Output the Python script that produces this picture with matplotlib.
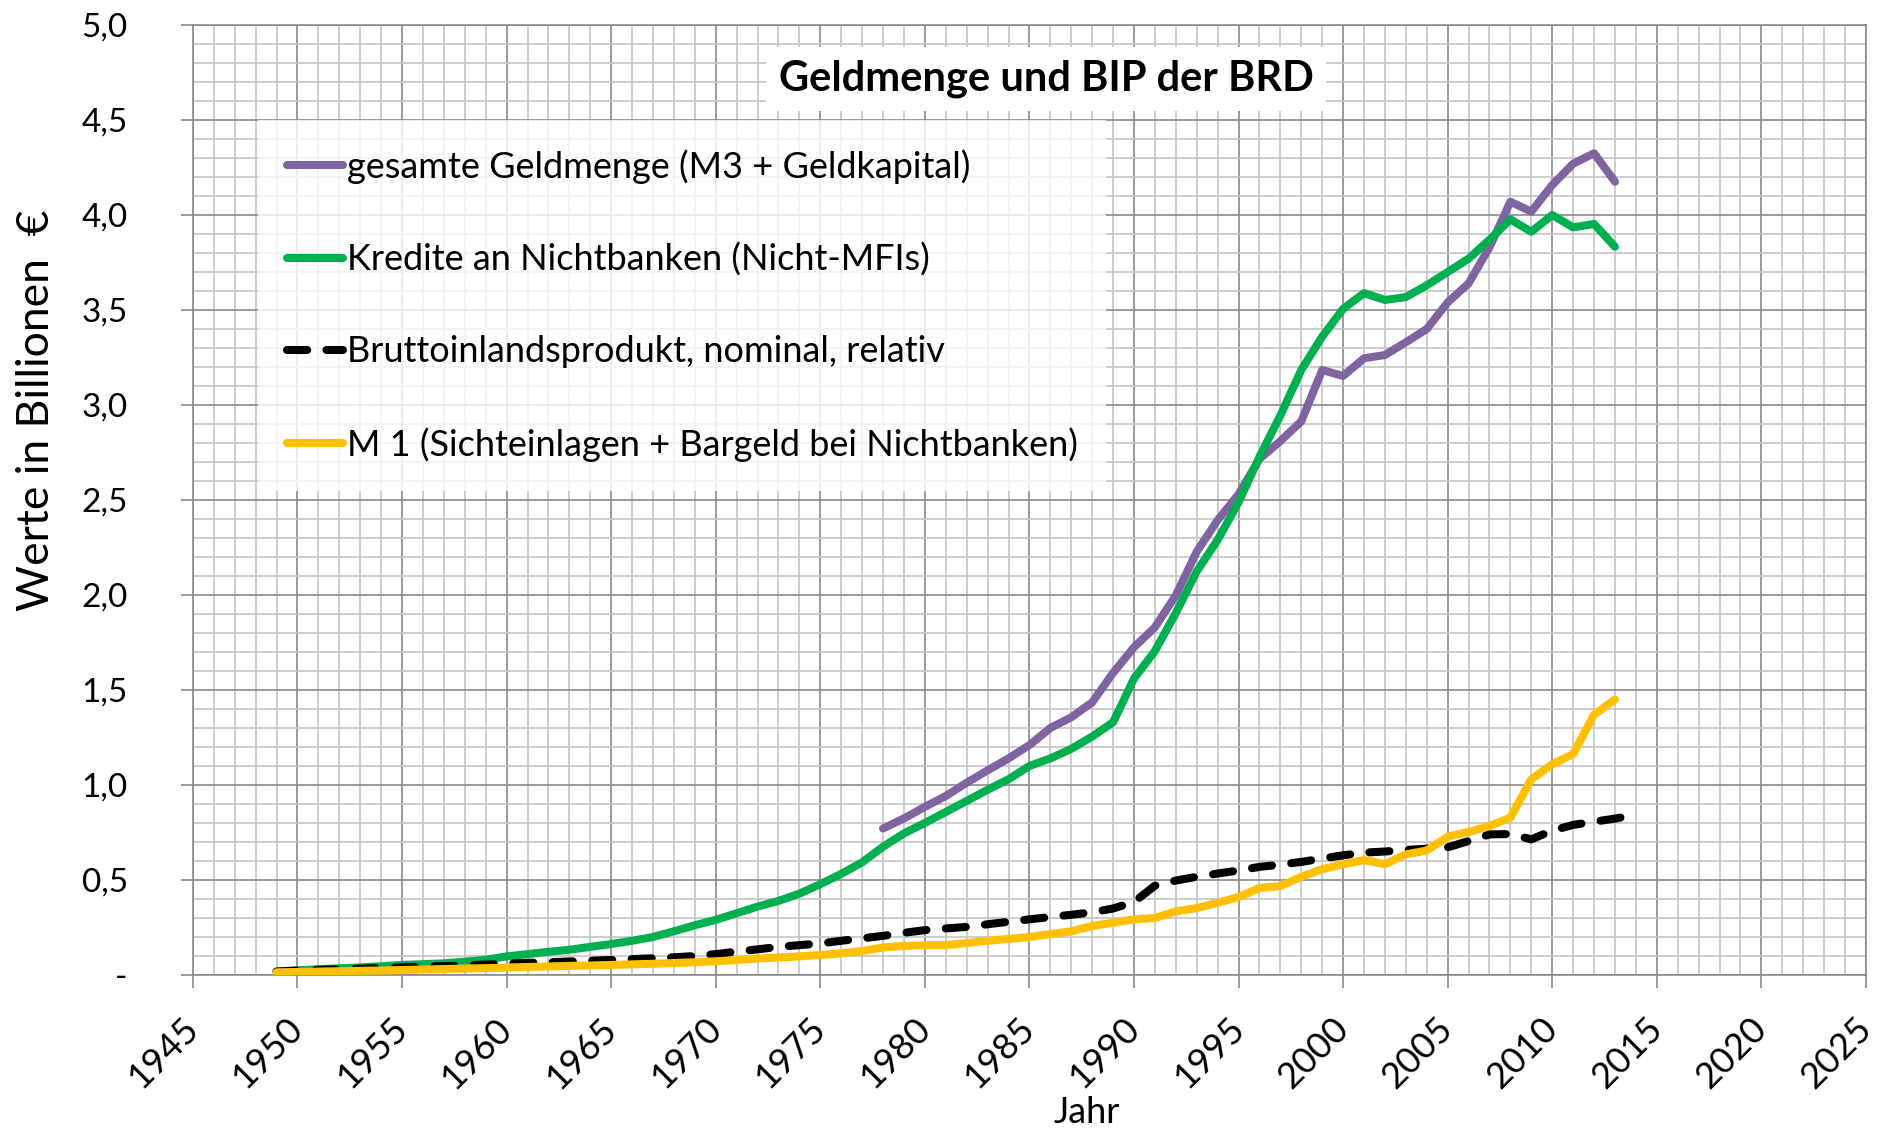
import matplotlib
matplotlib.use("Agg")
import matplotlib.pyplot as plt
from matplotlib.ticker import MultipleLocator, FuncFormatter

plt.rcParams['font.family'] = ['Lato', 'DejaVu Sans']

# Jahre
years_all = list(range(1949, 2014))
years_gdp = list(range(1949, 2015))
years_m3 = list(range(1978, 2014))

# gesamte Geldmenge (M3 + Geldkapital), Billionen EUR
geldmenge = [0.771, 0.824, 0.885, 0.942, 1.012, 1.077, 1.140, 1.210, 1.300, 1.356,
             1.435, 1.590, 1.725, 1.830, 1.998, 2.228, 2.394, 2.530, 2.716, 2.810,
             2.914, 3.184, 3.153, 3.246, 3.263, 3.330, 3.400, 3.540, 3.640, 3.830,
             4.070, 4.018, 4.158, 4.270, 4.325, 4.175]

# Kredite an Nichtbanken
kredite = [0.018, 0.025, 0.030, 0.035, 0.040, 0.046, 0.053, 0.057, 0.061, 0.070,
           0.080, 0.098, 0.110, 0.122, 0.133, 0.148, 0.163, 0.180, 0.200, 0.230,
           0.262, 0.290, 0.325, 0.360, 0.390, 0.428, 0.478, 0.532, 0.593, 0.675,
           0.745, 0.800, 0.858, 0.916, 0.975, 1.030, 1.100, 1.140, 1.190, 1.255,
           1.330, 1.560, 1.705, 1.905, 2.124, 2.290, 2.488, 2.727, 2.945, 3.184,
           3.360, 3.506, 3.589, 3.553, 3.568, 3.630, 3.700, 3.770, 3.870, 3.977,
           3.912, 4.000, 3.935, 3.953, 3.833]

# Bruttoinlandsprodukt, nominal
bip = [0.018, 0.023, 0.027, 0.030, 0.033, 0.037, 0.040, 0.044, 0.047, 0.050,
       0.055, 0.060, 0.064, 0.067, 0.071, 0.075, 0.079, 0.084, 0.088, 0.093,
       0.100, 0.110, 0.123, 0.135, 0.148, 0.157, 0.166, 0.180, 0.193, 0.206,
       0.222, 0.236, 0.245, 0.253, 0.267, 0.280, 0.293, 0.305, 0.317, 0.330,
       0.350, 0.384, 0.470, 0.497, 0.517, 0.534, 0.550, 0.569, 0.581, 0.595,
       0.613, 0.630, 0.644, 0.650, 0.658, 0.665, 0.672, 0.705, 0.740, 0.742,
       0.714, 0.760, 0.790, 0.807, 0.823, 0.844]

# M 1
m1 = [0.014, 0.016, 0.018, 0.020, 0.022, 0.024, 0.026, 0.029, 0.031, 0.034,
      0.036, 0.039, 0.042, 0.045, 0.048, 0.050, 0.053, 0.056, 0.059, 0.063,
      0.067, 0.072, 0.079, 0.087, 0.092, 0.098, 0.105, 0.114, 0.126, 0.145,
      0.153, 0.157, 0.157, 0.168, 0.180, 0.190, 0.200, 0.215, 0.230, 0.258,
      0.275, 0.293, 0.300, 0.335, 0.352, 0.380, 0.410, 0.458, 0.468, 0.517,
      0.557, 0.583, 0.605, 0.583, 0.635, 0.655, 0.728, 0.753, 0.784, 0.828,
      1.030, 1.109, 1.163, 1.370, 1.450]

labels = ['gesamte Geldmenge (M3 + Geldkapital)',
          'Kredite an Nichtbanken (Nicht-MFIs)',
          'Bruttoinlandsprodukt, nominal, relativ',
          'M 1 (Sichteinlagen + Bargeld bei Nichtbanken)']


def fmt_y(v, pos):
    if abs(v) < 1e-9:
        return '-'
    return f"{v:.1f}".replace('.', ',')


fig = plt.figure(figsize=(18.84, 11.32), dpi=100)
ax = fig.add_axes([0.1024, 0.1387, 0.8880, 0.8392])

lw = 5.8
ax.plot(years_m3, geldmenge, color='#8064A2', lw=lw, solid_capstyle='round',
        solid_joinstyle='round', label=labels[0], zorder=3)
ax.plot(years_all, kredite, color='#00B050', lw=lw, solid_capstyle='round',
        solid_joinstyle='round', label=labels[1], zorder=4)
ax.plot(years_gdp, bip, color='black', lw=lw, dashes=(2.5, 2.4), dash_capstyle='round',
        label=labels[2], zorder=5)
ax.plot(years_all, m1, color='#FFC000', lw=lw, solid_capstyle='round',
        solid_joinstyle='round', label=labels[3], zorder=6)

ax.set_xlim(1945, 2025)
ax.set_ylim(0, 5)
ax.xaxis.set_major_locator(MultipleLocator(5))
ax.xaxis.set_minor_locator(MultipleLocator(1))
ax.yaxis.set_major_locator(MultipleLocator(0.5))
ax.yaxis.set_minor_locator(MultipleLocator(0.1))
ax.yaxis.set_major_formatter(FuncFormatter(fmt_y))

ax.grid(which='minor', color='#c4c4c4', lw=1.2, zorder=0)
ax.grid(which='major', color='#8a8a8a', lw=1.2, zorder=1)
ax.set_axisbelow(True)
for s in ax.spines.values():
    s.set_color('#8a8a8a')
    s.set_linewidth(1.2)

ax.tick_params(which='major', length=9, width=1.2, color='#8a8a8a', labelsize=24)
ax.tick_params(axis='x', labelsize=26, pad=26)
ax.tick_params(which='minor', length=0)
ax.tick_params(axis='y', pad=38)
for t in ax.get_xticklabels():
    t.set_rotation(45)
    t.set_ha('right')
    t.set_va('center')
    t.set_rotation_mode('anchor')

ax.set_xlabel('Jahr', fontsize=26)
ax.xaxis.set_label_coords(0.534, -0.127)
ax.set_ylabel('Werte in Billionen  €', fontsize=32)
ax.yaxis.set_label_coords(-0.081, 0.594)

ax.text(0.51, 0.943, 'Geldmenge und BIP der BRD', transform=ax.transAxes,
        ha='center', va='center', fontsize=30, fontweight='bold', zorder=10,
        bbox=dict(facecolor='white', edgecolor='none', pad=9))

leg = ax.legend(loc='upper left', bbox_to_anchor=(0.039, 0.9), fontsize=26,
                frameon=True, fancybox=False, handlelength=1.55, handletextpad=0.1,
                labelspacing=1.63, borderpad=0.8, borderaxespad=0)
leg.get_frame().set_facecolor('white')
leg.get_frame().set_alpha(0.8)
leg.get_frame().set_edgecolor('none')
leg.set_zorder(9)

fig.savefig('out.png', dpi=100)
